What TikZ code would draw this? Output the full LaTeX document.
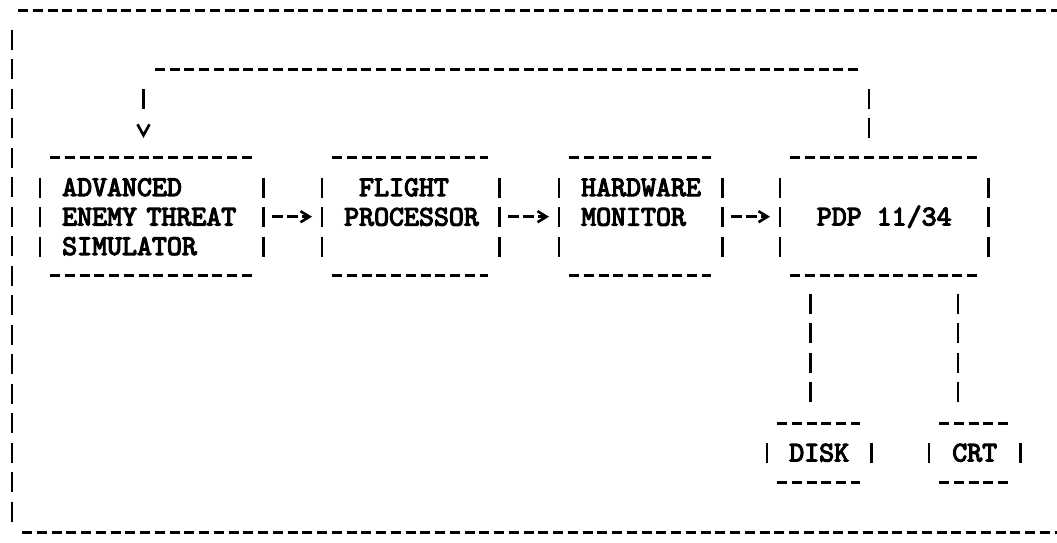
\documentclass[tikz,border=0pt]{standalone}
\usepackage{fontspec}
\newfontfamily\tw[FakeBold=4]{lmmono10-regular.otf}
\usetikzlibrary{arrows.meta}
\tikzset{
  hdash/.style={line width=3pt, dash pattern=on 10pt off 4.75pt},
  vdash/.style={line width=2.8pt, dash pattern=on 20pt off 9.5pt},
  tbox/.style={inner sep=0pt, anchor=north west, font=\tw\fontsize{28.5}{29.5}\selectfont},
  lefttext/.style={align=left, inner xsep=22pt},
  midtext/.style={align=center},
  harrow/.style={line width=2.6pt, dash pattern=on 11pt off 4pt,
    shorten <=9pt, shorten >=10pt, -{Straight Barb[length=9pt,width=11pt]}},
  varrow/.style={line width=2.6pt, dash pattern=on 20pt off 40pt,
    shorten <=19.5pt, shorten >=19.5pt, -{Straight Barb[length=11pt,width=12pt]}},
}
\newcommand\ttborder[1]{%
  \draw[hdash] ([xshift=10pt]#1.north west) -- ([xshift=-11pt]#1.north east);
  \draw[hdash] ([xshift=10pt]#1.south west) -- ([xshift=-11pt]#1.south east);
  \draw[vdash] ([yshift=-20pt]#1.north west) -- ([yshift=15pt]#1.south west);
  \draw[vdash] ([yshift=-20pt]#1.north east) -- ([yshift=15pt]#1.south east);
}
\begin{document}
\begin{tikzpicture}[x=1pt,y=-1pt]
\fill[white] (0,0) rectangle (1057,542);
\useasboundingbox (0,0) rectangle (1057,542);

% outer frame
\coordinate (ftl) at (18,10);
\coordinate (ftr) at (1057,10);
\coordinate (flt) at (12,29.5);
\coordinate (flb) at (12,522);
\coordinate (fbl) at (22,532);
\coordinate (fbr) at (1057,532);
\draw[hdash] (ftl) -- (ftr);
\draw[vdash] (flt) -- (flb);
\draw[hdash] (fbl) -- (fbr);

% boxes
\node[tbox, lefttext, minimum width=223pt, minimum height=118pt, text width=179pt]
  (aets) at (40,157.5) {ADVANCED\\ENEMY THREAT\\SIMULATOR};
\node[tbox, lefttext, minimum width=177pt, minimum height=118pt, text width=133pt]
  (fp) at (322,157.5) {\hphantom{P}FLIGHT\\PROCESSOR\\\mbox{}};
\node[tbox, lefttext, minimum width=163pt, minimum height=118pt, text width=119pt]
  (hm) at (559,157.5) {HARDWARE\\MONITOR\\\mbox{}};
\node[tbox, midtext, minimum width=208pt, minimum height=118pt]
  (pdp) at (780,157.5) {PDP 11/34};
\node[tbox, midtext, minimum width=104pt, minimum height=59pt]
  (disk) at (767,423) {DISK};
\node[tbox, midtext, minimum width=91pt, minimum height=59pt]
  (crt) at (929,423) {CRT};

\ttborder{aets}
\ttborder{fp}
\ttborder{hm}
\ttborder{pdp}
\ttborder{disk}
\ttborder{crt}

% forward connectors
\draw[harrow] (aets.east) -- (fp.west);
\draw[harrow] (fp.east) -- (hm.west);
\draw[harrow] (hm.east) -- (pdp.west);

% feedback loop from PDP 11/34 to simulator
\coordinate (lr) at (869,69);
\coordinate (ll) at (143.5,69);
\draw[vdash, shorten <=19.5pt, shorten >=19.5pt] (pdp.north -| lr) -- (lr);
\draw[hdash, shorten <=11pt, shorten >=10pt] (lr) -- (ll);
\draw[varrow] (ll) -- (ll |- aets.north);

% peripherals
\coordinate (dx) at (810.5,300);
\coordinate (cx) at (958,300);
\draw[vdash, shorten <=18pt, shorten >=19.5pt] (pdp.south -| dx) -- (disk.north -| dx);
\draw[vdash, shorten <=18pt, shorten >=19.5pt] (pdp.south -| cx) -- (crt.north -| cx);
\end{tikzpicture}
\end{document}
